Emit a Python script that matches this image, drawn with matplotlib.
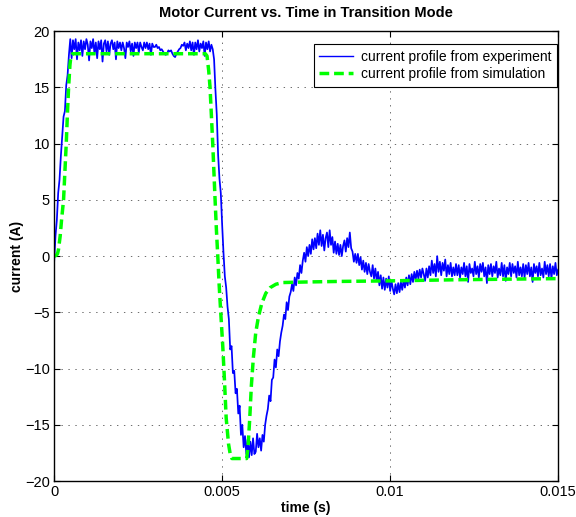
import numpy as np
import matplotlib
matplotlib.use("Agg")
import matplotlib.pyplot as plt

plt.rcParams['font.family'] = ['Liberation Sans', 'DejaVu Sans']
plt.rcParams['lines.scale_dashes'] = False

# Measured motor current, sampled every 40 us from 0 to 15 ms (one row = 1 ms)
t_exp_step = 0.00004
i_exp = [
    # 0 - 1 ms
    -0.5, 1.8, 3.2, 5.6, 6.8, 8.9, 10.6, 12.4, 12.9, 15.2, 16.1, 17.9, 19.3,
    17.6, 19.2, 18.4, 19.3, 17.5, 19.0, 18.3, 19.2, 17.8, 19.1, 18.4, 19.3,
    # 1 - 2 ms
    18.8, 17.4, 19.1, 18.5, 19.3, 18.0, 19.0, 17.6, 19.1, 18.4, 19.2, 17.3, 18.9,
    19.2, 18.2, 19.1, 17.9, 18.9, 19.2, 18.4, 19.0, 17.5, 19.1, 18.5, 19.0,
    # 2 - 3 ms
    18.3, 19.0, 18.5, 17.6, 19.0, 18.6, 19.1, 18.2, 18.9, 17.8, 19.0, 18.5, 19.0,
    18.1, 19.0, 18.6, 18.3, 19.0, 18.5, 19.0, 18.4, 18.9, 17.9, 18.9, 18.6,
    # 3 - 4 ms
    18.6, 18.8, 18.5, 18.6, 18.3, 18.4, 18.2, 18.0, 17.9, 18.0, 18.3, 18.2, 18.3,
    18.0, 17.8, 17.7, 18.0, 18.2, 18.4, 18.5, 18.8, 18.7, 19.0, 18.3, 18.9,
    # 4 - 5 ms
    18.5, 19.1, 18.3, 19.0, 17.9, 19.0, 18.4, 19.2, 18.2, 18.9, 18.5, 19.1, 17.8,
    19.0, 18.4, 19.1, 18.2, 18.8, 18.4, 17.5, 14.8, 12.6, 9.0, 6.9, 5.6,
    # 5 - 6 ms
    2.8, 0.3, -1.8, -2.8, -4.5, -5.6, -8.3, -8.0, -10.4, -10.2, -12.2, -11.8, -14.0,
    -13.3, -15.9, -15.0, -17.0, -16.0, -17.6, -16.3, -17.9, -16.5, -17.7, -16.2, -17.6,
    # 6 - 7 ms
    -17.4, -15.8, -17.0, -16.2, -17.3, -15.9, -16.5, -15.0, -14.2, -13.6, -12.4, -12.9, -11.0,
    -10.8, -9.2, -9.9, -8.3, -8.9, -7.6, -6.8, -6.2, -5.2, -5.6, -4.1, -4.8,
    # 7 - 8 ms
    -3.6, -3.2, -2.5, -3.1, -1.9, -2.6, -1.5, -2.0, -0.8, -1.5, -0.4, 0.3, -0.5,
    0.8, 0.0, 1.0, 0.2, 1.5, 0.6, 1.6, 0.7, 2.0, 1.0, 2.3, 0.9,
    # 8 - 9 ms
    1.9, 0.5, 1.6, 2.1, 0.8, 2.3, 1.0, 1.7, 0.3, 1.3, 0.2, 1.1, 0.1,
    1.0, 0.0, 0.9, 1.4, 0.4, 1.6, 0.8, 2.1, 0.7, 0.4, -0.5, 0.2,
    # 9 - 10 ms
    -0.6, 0.2, -0.8, -0.1, -1.2, -0.4, -1.4, -0.6, -1.6, -0.7, -1.4, -1.8, -0.8,
    -2.0, -1.1, -2.2, -1.4, -2.6, -1.7, -2.9, -1.9, -3.0, -2.0, -2.8, -1.8,
    # 10 - 11 ms
    -3.1, -2.2, -2.9, -3.4, -2.5, -3.3, -2.4, -3.2, -2.3, -3.0, -2.1, -2.8, -1.9,
    -2.6, -1.7, -2.5, -1.6, -2.3, -1.4, -2.1, -1.3, -2.0, -1.2, -1.9, -1.1,
    # 11 - 12 ms
    -1.6, -2.2, -1.1, -1.9, -0.9, -1.7, -0.4, -1.5, -0.7, -1.8, 0.0, -1.4, -0.5,
    -1.7, -0.6, -1.3, -0.3, -1.8, -0.8, -1.6, -0.6, -1.8, -1.0, -1.7, -0.7,
    # 12 - 13 ms
    -1.7, -0.8, -1.9, -1.0, -1.6, -0.6, -1.8, -0.9, -2.3, -0.7, -1.5, -1.1, -1.8,
    -0.5, -1.6, -0.9, -1.9, -0.7, -1.4, -0.6, -1.8, -1.0, -2.4, -0.8, -1.6,
    # 13 - 14 ms
    -0.7, -1.8, -0.9, -1.5, -0.5, -1.9, -1.1, -1.7, -0.6, -1.8, -0.8, -2.2, -1.0,
    -1.6, -0.6, -1.8, -0.7, -1.5, -0.9, -1.9, -0.5, -1.7, -1.0, -1.8, -0.7,
    # 14 - 15 ms
    -1.9, -0.8, -1.6, -0.6, -1.8, -1.0, -2.3, -0.7, -1.5, -0.9, -1.8, -0.6, -1.7,
    -1.1, -1.9, -0.5, -1.6, -0.8, -1.8, -0.7, -2.0, -0.9, -1.6, -0.6, -1.7,
    # 15 ms
    -1.2,
]
t_exp = np.arange(len(i_exp)) * t_exp_step

# Simulated current profile (time in ms, current in A)
t_sim_ms = [0.0, 0.05, 0.10, 0.13, 0.18, 0.22, 0.28, 0.32, 0.36, 0.40, 0.43, 0.47,
            0.50, 0.55, 4.50, 4.55, 4.60, 4.64, 4.72, 4.79, 4.83, 4.87, 4.91,
            4.96, 5.02, 5.07, 5.12, 5.19, 5.24, 5.29, 5.73, 5.77, 5.82, 5.87,
            5.93, 6.00, 6.08, 6.18, 6.30, 6.43, 6.60, 6.80, 7.50, 8.50, 10.0,
            12.0, 15.0]
i_sim = [0.0, 0.05, 0.2, 0.6, 1.8, 3.2, 5.0, 7.5, 10.0, 13.0, 15.0, 17.0,
         17.8, 18.0, 18.0, 17.8, 16.5, 15.0, 10.0, 5.0, 2.3, 0.0, -2.5,
         -5.1, -8.1, -11.1, -14.4, -16.7, -17.6, -18.0, -18.0, -17.0, -14.5, -11.5,
         -9.0, -6.8, -5.4, -4.2, -3.3, -2.8, -2.5, -2.35, -2.3, -2.25, -2.2,
         -2.1, -2.0]
t_sim = np.array(t_sim_ms) / 1000.0

x_ticks = [0, 0.005, 0.01, 0.015]
x_tick_labels = ['0', '0.005', '0.01', '0.015']
y_ticks = [-20, -15, -10, -5, 0, 5, 10, 15, 20]

fig = plt.figure(figsize=(5.76, 5.17), dpi=100)
ax = fig.add_axes([0.094, 0.0696, 0.875, 0.870])

ax.plot(t_exp, i_exp, color='#0000ff', lw=1.25,
        label='current profile from experiment')
ax.plot(t_sim, i_sim, color='#00ff00', lw=2.5, dashes=(7.0, 3.5),
        label='current profile from simulation')

ax.set_xlim(0, 0.015)
ax.set_ylim(-20, 20)
ax.set_xticks(x_ticks)
ax.set_xticklabels(x_tick_labels)
ax.set_yticks(y_ticks)
ax.tick_params(direction='in', top=True, right=True, length=4, width=0.8,
               labelsize=10.5, pad=3)
ax.grid(True, linestyle=(0, (1, 4)), color='#555555', lw=0.6)
for sp in ax.spines.values():
    sp.set_linewidth(1.0)

ax.set_title('Motor Current vs. Time in Transition Mode', fontsize=10.5,
             fontweight='bold', pad=10)
ax.set_xlabel('time (s)', fontsize=10, fontweight='bold', labelpad=1)
ax.set_ylabel('current (A)', fontsize=10, fontweight='bold', labelpad=1)

leg = ax.legend(loc='upper right', fontsize=10, frameon=True, fancybox=False,
                edgecolor='black', framealpha=1, borderpad=0.4,
                labelspacing=0.25, handlelength=2.4, handletextpad=0.6,
                borderaxespad=0.0, bbox_to_anchor=(0.998, 0.971))
leg.get_frame().set_linewidth(0.8)
leg.get_lines()[0].set_linewidth(1.0)

fig.savefig('out.png', dpi=100)
